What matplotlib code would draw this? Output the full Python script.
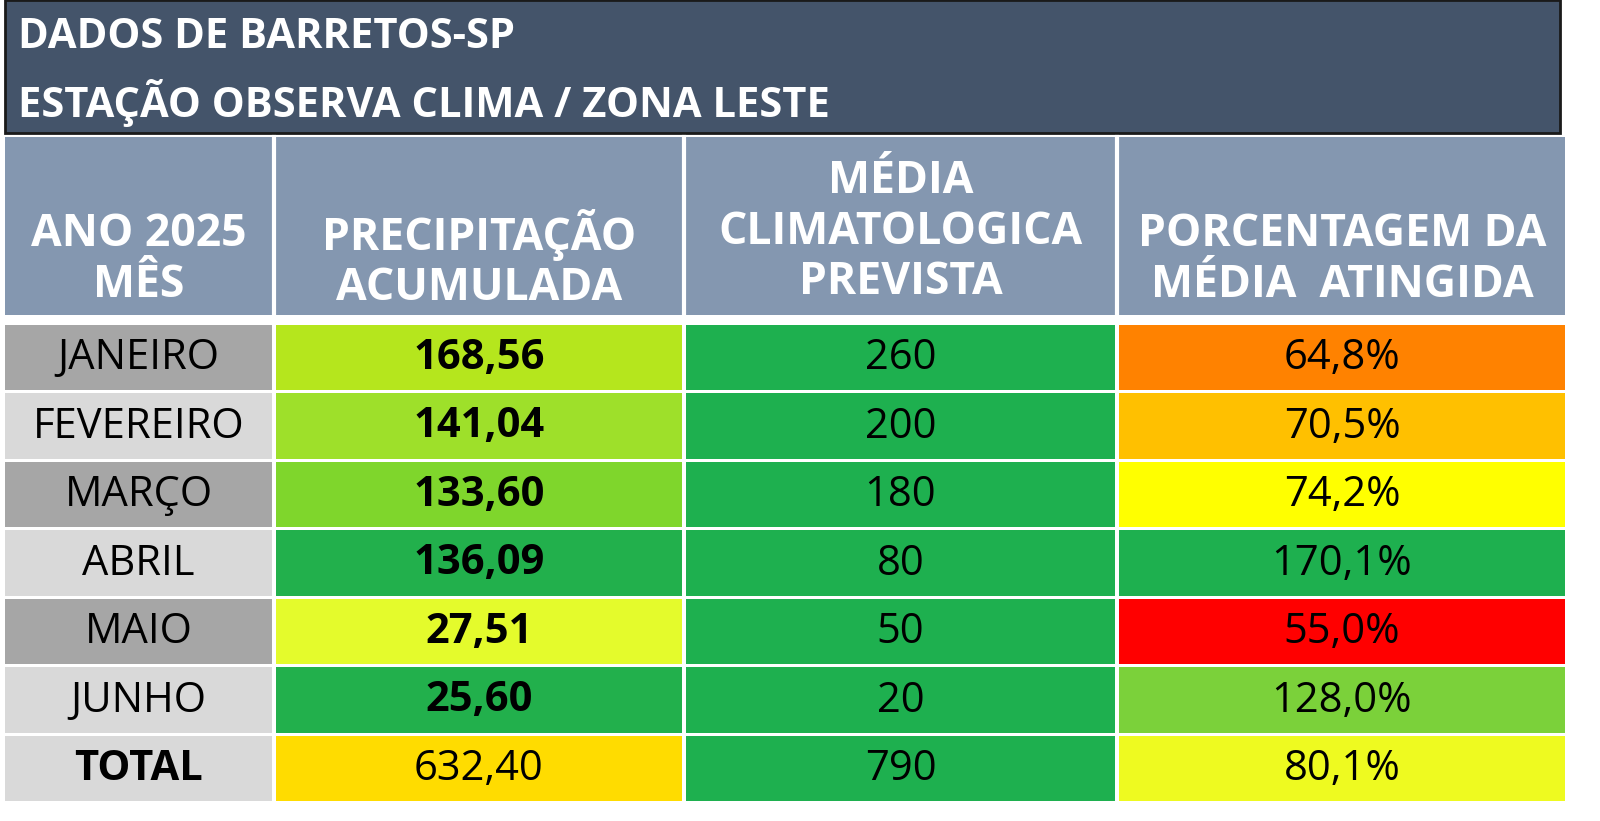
import matplotlib
matplotlib.use("Agg")
import matplotlib.pyplot as plt
from matplotlib.patches import Rectangle

title_lines = ["DADOS DE BARRETOS-SP", "ESTAÇÃO OBSERVA CLIMA / ZONA LESTE"]
headers = ["ANO 2025\nMÊS", "PRECIPITAÇÃO\nACUMULADA", "MÉDIA\nCLIMATOLOGICA\nPREVISTA", "PORCENTAGEM DA\nMÉDIA  ATINGIDA"]
months = ["JANEIRO", "FEVEREIRO", "MARÇO", "ABRIL", "MAIO", "JUNHO", "TOTAL"]
precip = [168.56, 141.04, 133.60, 136.09, 27.51, 25.60, 632.40]
media = [260, 200, 180, 80, 50, 20, 790]
percent = [64.8, 70.5, 74.2, 170.1, 55.0, 128.0, 80.1]

month_colors = ["#a6a6a6", "#d9d9d9"] * 3 + ["#d9d9d9"]
precip_colors = ["#b5e61d", "#9ee02a", "#7fd62c", "#22b04c", "#e4fb2c", "#22b04c", "#ffdc00"]
media_colors = ["#1eb04f"] * 7
pct_colors = ["#ff8200", "#ffc000", "#ffff00", "#1eb04f", "#ff0000", "#7bd13a", "#eefa20"]

fig = plt.figure(figsize=(16, 8.21), dpi=100)
ax = fig.add_axes([0, 0, 1, 1])
ax.set_xlim(0, 1600)
ax.set_ylim(821, 0)
ax.axis("off")
FONT = "Open Sans"

ax.add_patch(Rectangle((5, 0), 1555, 133, facecolor="#44546a", edgecolor="#1a1a1a", lw=2))
for i, t in enumerate(title_lines):
    ax.text(18, 38 + i * 65, t, color="white", fontsize=30, fontweight="bold",
            family=FONT, va="center", ha="left")

cols = [(5, 272), (276, 682), (686, 1115), (1119, 1565)]
ax.add_patch(Rectangle((5, 137), 1560, 178, facecolor="#8497b0", edgecolor="none"))
for (x0, x1), h in zip(cols, headers):
    ax.text((x0 + x1) / 2, 232 if h.count("\n") == 2 else 260, h, color="white",
            fontsize=32, fontweight="bold", family=FONT, ha="center", va="center",
            linespacing=1.15)
for (x0, x1) in cols[1:]:
    ax.plot([x0 - 2, x0 - 2], [137, 315], color="white", lw=3)

row_top = 325
row_h = 68.5
for i, m in enumerate(months):
    y0 = row_top + i * row_h
    vals = [m, f"{precip[i]:.2f}".replace(".", ","), str(media[i]),
            f"{percent[i]:.1f}%".replace(".", ",")]
    colors = [month_colors[i], precip_colors[i], media_colors[i], pct_colors[i]]
    for j, ((x0, x1), v, c) in enumerate(zip(cols, vals, colors)):
        ax.add_patch(Rectangle((x0, y0), x1 - x0, row_h - 3, facecolor=c, edgecolor="none"))
        bold = (j == 1 and i < 6) or (j == 0 and m == "TOTAL")
        ax.text((x0 + x1) / 2, y0 + row_h / 2 - 1, v, color="black", fontsize=30,
                fontweight="bold" if bold else "normal", family=FONT,
                ha="center", va="center")

fig.savefig("out.png", dpi=100, facecolor="white")
